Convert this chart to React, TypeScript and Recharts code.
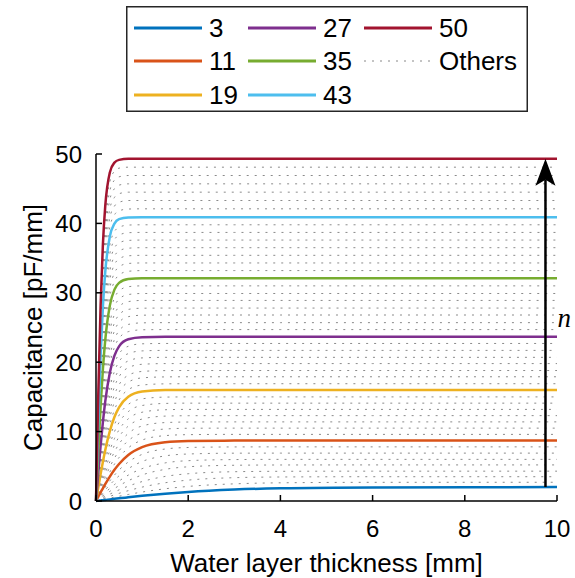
import { LineChart, Line, XAxis, YAxis, ReferenceLine, ReferenceDot } from "recharts";

// x samples (water layer thickness, mm)
const xValues = [0, 0.05, 0.1, 0.15, 0.2, 0.3, 0.4, 0.5, 0.7, 1, 1.5, 2, 3, 4, 6, 10];

// highlighted curves (capacitance, pF/mm)
const n3 = [0, 0.04, 0.08, 0.12, 0.16, 0.23, 0.31, 0.39, 0.53, 0.74, 1.05, 1.31, 1.65, 1.83, 1.96, 2.0];
const n11 = [0, 0.62, 1.24, 1.83, 2.42, 3.52, 4.49, 5.33, 6.63, 7.75, 8.46, 8.64, 8.7, 8.7, 8.7, 8.7];
const n19 = [0, 1.96, 3.87, 5.66, 7.31, 10.06, 12.1, 13.5, 15.01, 15.77, 15.98, 16, 16, 16, 16, 16];
const n27 = [0, 4.09, 7.97, 11.4, 14.31, 18.49, 20.95, 22.28, 23.3, 23.6, 23.65, 23.65, 23.65, 23.65, 23.65, 23.65];
const n35 = [0, 7.16, 13.67, 19.04, 23.14, 28.15, 30.46, 31.43, 32.0, 32.1, 32.1, 32.1, 32.1, 32.1, 32.1, 32.1];
const n43 = [0, 11.12, 20.74, 28.02, 32.97, 38.12, 39.96, 40.61, 40.86, 40.9, 40.9, 40.9, 40.9, 40.9, 40.9, 40.9];
const n50 = [0, 15.48, 28.15, 37.02, 42.45, 47.33, 48.76, 49.15, 49.3, 49.3, 49.3, 49.3, 49.3, 49.3, 49.3, 49.3];

const seriesN = [3, 11, 19, 27, 35, 43, 50];
const seriesValues = [n3, n11, n19, n27, n35, n43, n50];
const seriesColors = ["#0072BD", "#D95319", "#EDB120", "#7E2F8E", "#77AC30", "#4DBEEE", "#A2142F"];

// the dotted "Others" curves
const otherN = [4, 5, 6, 7, 8, 9, 10, 12, 13, 14, 15, 16, 17, 18, 20, 21, 22, 23, 24, 25, 26, 28, 29, 30, 31, 32, 33, 34, 36, 37, 38, 39, 40, 41, 42, 44, 45, 46, 47, 48, 49];
const otherCurves = [
  [0, 0.07, 0.14, 0.21, 0.28, 0.42, 0.55, 0.69, 0.94, 1.29, 1.76, 2.1, 2.47, 2.62, 2.69, 2.7],
  [0, 0.11, 0.23, 0.34, 0.45, 0.67, 0.89, 1.1, 1.49, 2.0, 2.63, 3.01, 3.36, 3.46, 3.5, 3.5],
  [0, 0.17, 0.33, 0.5, 0.67, 0.99, 1.3, 1.6, 2.14, 2.8, 3.54, 3.93, 4.22, 4.28, 4.3, 4.3],
  [0, 0.24, 0.47, 0.7, 0.94, 1.39, 1.81, 2.21, 2.92, 3.75, 4.56, 4.93, 5.15, 5.19, 5.2, 5.2],
  [0, 0.31, 0.62, 0.93, 1.23, 1.81, 2.36, 2.87, 3.73, 4.66, 5.49, 5.81, 5.97, 6, 6, 6],
  [0, 0.4, 0.8, 1.19, 1.58, 2.33, 3.01, 3.63, 4.65, 5.69, 6.5, 6.77, 6.89, 6.9, 6.9, 6.9],
  [0, 0.51, 1.01, 1.5, 1.98, 2.9, 3.73, 4.46, 5.62, 6.72, 7.49, 7.71, 7.79, 7.8, 7.8, 7.8],
  [0, 0.75, 1.48, 2.21, 2.9, 4.18, 5.31, 6.26, 7.65, 8.78, 9.42, 9.56, 9.6, 9.6, 9.6, 9.6],
  [0, 0.88, 1.76, 2.6, 3.42, 4.9, 6.17, 7.22, 8.69, 9.8, 10.37, 10.48, 10.5, 10.5, 10.5, 10.5],
  [0, 1.03, 2.05, 3.04, 3.98, 5.66, 7.08, 8.22, 9.74, 10.81, 11.3, 11.38, 11.4, 11.4, 11.4, 11.4],
  [0, 1.19, 2.37, 3.5, 4.57, 6.47, 8.02, 9.24, 10.79, 11.81, 12.23, 12.29, 12.3, 12.3, 12.3, 12.3],
  [0, 1.37, 2.71, 3.99, 5.2, 7.3, 8.99, 10.26, 11.84, 12.79, 13.15, 13.2, 13.2, 13.2, 13.2, 13.2],
  [0, 1.55, 3.06, 4.51, 5.85, 8.18, 9.98, 11.31, 12.87, 13.76, 14.06, 14.1, 14.1, 14.1, 14.1, 14.1],
  [0, 1.74, 3.45, 5.06, 6.54, 9.08, 11.0, 12.36, 13.91, 14.72, 14.97, 15, 15, 15, 15, 15],
  [0, 2.18, 4.3, 6.28, 8.06, 11.02, 13.13, 14.55, 16.04, 16.71, 16.88, 16.9, 16.9, 16.9, 16.9, 16.9],
  [0, 2.42, 4.76, 6.94, 8.9, 12.06, 14.27, 15.7, 17.13, 17.74, 17.88, 17.9, 17.9, 17.9, 17.9, 17.9],
  [0, 2.67, 5.23, 7.6, 9.7, 13.07, 15.32, 16.75, 18.12, 18.67, 18.79, 18.8, 18.8, 18.8, 18.8, 18.8],
  [0, 2.93, 5.74, 8.32, 10.59, 14.14, 16.47, 17.9, 19.21, 19.7, 19.8, 19.8, 19.8, 19.8, 19.8, 19.8],
  [0, 3.21, 6.25, 9.03, 11.45, 15.17, 17.53, 18.94, 20.18, 20.62, 20.7, 20.7, 20.7, 20.7, 20.7, 20.7],
  [0, 3.49, 6.81, 9.81, 12.39, 16.3, 18.68, 20.07, 21.24, 21.63, 21.7, 21.7, 21.7, 21.7, 21.7, 21.7],
  [0, 3.79, 7.4, 10.6, 13.35, 17.41, 19.84, 21.2, 22.29, 22.65, 22.7, 22.7, 22.7, 22.7, 22.7, 22.7],
  [0, 4.45, 8.62, 12.28, 15.34, 19.69, 22.16, 23.44, 24.4, 24.67, 24.7, 24.7, 24.7, 24.7, 24.7, 24.7],
  [0, 4.78, 9.25, 13.16, 16.37, 20.84, 23.28, 24.54, 25.44, 25.67, 25.7, 25.7, 25.7, 25.7, 25.7, 25.7],
  [0, 5.17, 9.94, 14.1, 17.47, 22.08, 24.52, 25.73, 26.56, 26.77, 26.8, 26.8, 26.8, 26.8, 26.8, 26.8],
  [0, 5.5, 10.62, 15.01, 18.54, 23.24, 25.66, 26.83, 27.61, 27.78, 27.8, 27.8, 27.8, 27.8, 27.8, 27.8],
  [0, 5.92, 11.39, 15.98, 19.68, 24.48, 26.88, 28.0, 28.73, 28.9, 28.9, 28.9, 28.9, 28.9, 28.9, 28.9],
  [0, 6.31, 12.08, 16.95, 20.78, 25.65, 28.02, 29.09, 29.75, 29.9, 29.9, 29.9, 29.9, 29.9, 29.9, 29.9],
  [0, 6.73, 12.87, 17.98, 21.95, 26.91, 29.23, 30.26, 30.88, 31.0, 31.0, 31.0, 31.0, 31.0, 31.0, 31.0],
  [0, 7.64, 14.48, 20.09, 24.34, 29.42, 31.64, 32.57, 33.1, 33.2, 33.2, 33.2, 33.2, 33.2, 33.2, 33.2],
  [0, 8.09, 15.33, 21.16, 25.55, 30.66, 32.86, 33.75, 34.23, 34.3, 34.3, 34.3, 34.3, 34.3, 34.3, 34.3],
  [0, 8.57, 16.18, 22.27, 26.76, 31.93, 34.05, 34.9, 35.33, 35.4, 35.4, 35.4, 35.4, 35.4, 35.4, 35.4],
  [0, 9.05, 17.05, 23.4, 28.0, 33.14, 35.26, 36.03, 36.43, 36.5, 36.5, 36.5, 36.5, 36.5, 36.5, 36.5],
  [0, 9.55, 17.94, 24.52, 29.22, 34.4, 36.43, 37.19, 37.55, 37.6, 37.6, 37.6, 37.6, 37.6, 37.6, 37.6],
  [0, 10.06, 18.85, 25.66, 30.5, 35.64, 37.62, 38.31, 38.66, 38.7, 38.7, 38.7, 38.7, 38.7, 38.7, 38.7],
  [0, 10.59, 19.78, 26.83, 31.72, 36.89, 38.81, 39.44, 39.76, 39.8, 39.8, 39.8, 39.8, 39.8, 39.8, 39.8],
  [0, 11.7, 21.72, 29.26, 34.31, 39.45, 41.22, 41.81, 42.07, 42.1, 42.1, 42.1, 42.1, 42.1, 42.1, 42.1],
  [0, 12.3, 22.78, 30.53, 35.68, 40.79, 42.48, 43.04, 43.3, 43.3, 43.3, 43.3, 43.3, 43.3, 43.3, 43.3],
  [0, 12.91, 23.81, 31.77, 37.02, 42.1, 43.74, 44.28, 44.5, 44.5, 44.5, 44.5, 44.5, 44.5, 44.5, 44.5],
  [0, 13.53, 24.86, 33.09, 38.39, 43.42, 45.01, 45.52, 45.7, 45.7, 45.7, 45.7, 45.7, 45.7, 45.7, 45.7],
  [0, 14.16, 25.94, 34.38, 39.72, 44.7, 46.24, 46.71, 46.9, 46.9, 46.9, 46.9, 46.9, 46.9, 46.9, 46.9],
  [0, 14.81, 27.03, 35.69, 41.13, 46.03, 47.52, 47.96, 48.1, 48.1, 48.1, 48.1, 48.1, 48.1, 48.1, 48.1],
];

const xTicks = [0, 2, 4, 6, 8, 10];
const yTicks = [0, 10, 20, 30, 40, 50];

// arrow showing increasing n
const arrowX = 9.75;
const arrowFrom = 2;
const arrowTo = 49.3;
const arrowLabelY = 26.4;

const data = xValues.map((x, i) => {
  const row: Record<string, number> = { x };
  seriesN.forEach((n, k) => {
    row["n" + n] = seriesValues[k][i];
  });
  otherN.forEach((n, k) => {
    row["n" + n] = otherCurves[k][i];
  });
  return row;
});

const FONT = "'Liberation Sans', Arial, sans-serif";

function ArrowHead(props: any) {
  const { cx, cy } = props;
  return <path d={`M${cx},${cy} L${cx - 10},${cy + 27} L${cx},${cy + 21} L${cx + 10},${cy + 27} Z`} fill="#000" />;
}

function ArrowLabel(props: any) {
  const { cx, cy } = props;
  return (
    <text x={cx + 12} y={cy} dominantBaseline="central" fontFamily="'Liberation Serif', 'DejaVu Serif', serif" fontStyle="italic" fontSize={27} fill="#000">
      n
    </text>
  );
}

function LegendBox() {
  const cols = [8, 122, 238];
  const rows = [22, 55, 89];
  const items = [
    ...seriesN.map((n, i) => ({ label: String(n), color: seriesColors[i], dotted: false })),
    { label: "Others", color: "#888", dotted: true },
  ];
  return (
    <svg width={402} height={106} style={{ position: "absolute", left: 126, top: 6 }}>
      <rect x={0.75} y={0.75} width={400.5} height={104.5} fill="#fff" stroke="#262626" strokeWidth={1.5} />
      {items.map((it, i) => {
        const cx = cols[Math.floor(i / 3)];
        const cy = rows[i % 3];
        return (
          <g key={it.label}>
            <line x1={cx} x2={cx + 68} y1={cy} y2={cy} stroke={it.color} strokeWidth={it.dotted ? 1 : 3} strokeDasharray={it.dotted ? "2 6" : undefined} />
            <text x={cx + 75} y={cy} dominantBaseline="central" fontFamily={FONT} fontSize={26} fill="#000">
              {it.label}
            </text>
          </g>
        );
      })}
    </svg>
  );
}

export default function App() {
  return (
    <div style={{ position: "absolute", left: 0, top: 0, width: 575, height: 578, background: "#fff" }}>
      <LineChart width={575} height={578} data={data} margin={{ top: 154, right: 18, left: 0, bottom: 0 }}>
        <XAxis
          dataKey="x"
          type="number"
          domain={[0, 10]}
          ticks={xTicks}
          interval={0}
          height={77}
          tickSize={-6}
          tickMargin={25}
          axisLine={{ stroke: "#000", strokeWidth: 1.5 }}
          tickLine={{ stroke: "#000", strokeWidth: 1.5 }}
          tick={{ fill: "#000", fontSize: 24, fontFamily: FONT }}
          label={{ value: "Water layer thickness [mm]", position: "center", dy: 23, fill: "#000", fontSize: 26, fontFamily: FONT }}
        />
        <YAxis
          type="number"
          domain={[0, 50]}
          ticks={yTicks}
          interval={0}
          width={96}
          tickSize={-6}
          tickMargin={20}
          axisLine={{ stroke: "#000", strokeWidth: 1.5 }}
          tickLine={{ stroke: "#000", strokeWidth: 1.5 }}
          tick={{ fill: "#000", fontSize: 24, fontFamily: FONT }}
          label={{ value: "Capacitance [pF/mm]", angle: -90, position: "center", dx: -15, fill: "#000", fontSize: 26, fontFamily: FONT }}
        />
        {otherN.map((n) => (
          <Line
            key={"o" + n}
            dataKey={"n" + n}
            type="monotone"
            stroke="#8a8a8a"
            strokeWidth={1}
            strokeDasharray="2 6"
            dot={false}
            activeDot={false}
            isAnimationActive={false}
          />
        ))}
        {seriesN.map((n, i) => (
          <Line
            key={"s" + n}
            dataKey={"n" + n}
            type="monotone"
            stroke={seriesColors[i]}
            strokeWidth={2.5}
            dot={false}
            activeDot={false}
            isAnimationActive={false}
          />
        ))}
        <ReferenceLine segment={[{ x: arrowX, y: arrowFrom }, { x: arrowX, y: arrowTo - 3 }]} stroke="#000" strokeWidth={2.5} />
        <ReferenceDot x={arrowX} y={arrowTo} shape={ArrowHead} />
        <ReferenceDot x={arrowX} y={arrowLabelY} shape={ArrowLabel} />
      </LineChart>
      <LegendBox />
    </div>
  );
}
